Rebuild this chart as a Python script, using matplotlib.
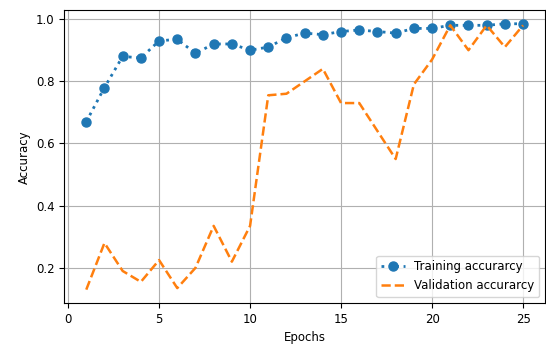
import matplotlib
matplotlib.use("Agg")
import matplotlib.pyplot as plt

epochs = list(range(1, 26))
train_acc = [0.67, 0.78, 0.88, 0.875, 0.93, 0.935, 0.89, 0.92, 0.92, 0.90,
             0.91, 0.94, 0.955, 0.95, 0.96, 0.965, 0.96, 0.955, 0.97, 0.97,
             0.98, 0.98, 0.98, 0.985, 0.985]
val_acc = [0.13, 0.28, 0.19, 0.155, 0.225, 0.135, 0.20, 0.335, 0.22, 0.335,
           0.755, 0.76, 0.80, 0.84, 0.73, 0.73, 0.64, 0.55, 0.79, 0.87,
           0.98, 0.90, 0.98, 0.91, 0.98]

plt.rcParams['font.size'] = 8.5
fig, ax = plt.subplots(figsize=(5.46, 3.49), dpi=100)
ax.plot(epochs, train_acc, ':o', color='#1f77b4', markersize=6.5, linewidth=2,
        label='Training accurarcy')
ax.plot(epochs, val_acc, '--', color='#ff7f0e', linewidth=1.8,
        label='Validation accurarcy')
ax.set_xlabel('Epochs')
ax.set_ylabel('Accuracy')
ax.set_xticks([0, 5, 10, 15, 20, 25])
ax.grid(True)
ax.legend(loc='lower right')
fig.subplots_adjust(left=0.118, right=0.998, top=0.97, bottom=0.132)
fig.savefig('out.png')
